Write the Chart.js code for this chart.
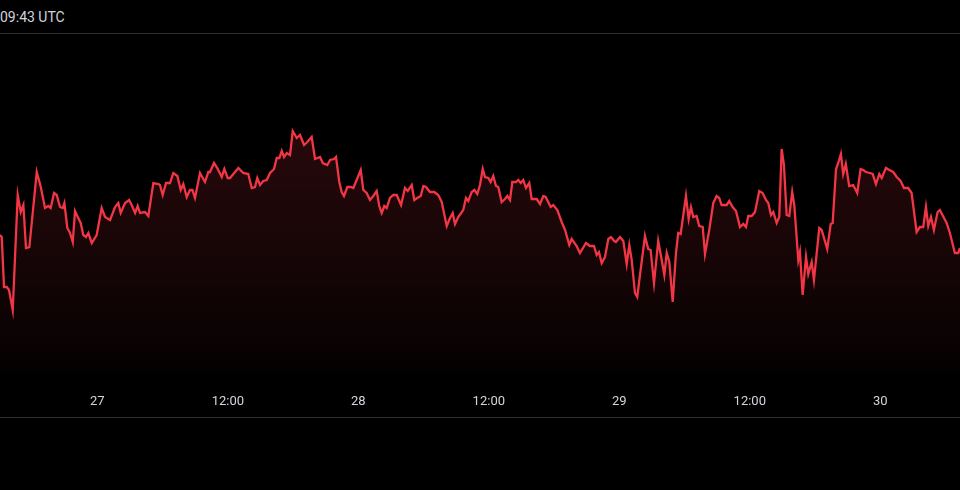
<!DOCTYPE html>
<html>
<head>
<meta charset="utf-8">
<script src="https://cdn.jsdelivr.net/npm/chart.js@4/dist/chart.umd.min.js"></script>
<style>
  html, body { margin: 0; padding: 0; background: #000; }
  body { width: 960px; height: 490px; position: relative; overflow: hidden; font-family: Roboto, "Noto Sans", sans-serif; }
  #header { position: absolute; left: 0; top: 0; width: 960px; height: 33px; border-bottom: 1px solid #2e2e2e; }
  #stamp { position: absolute; left: 0; top: 9px; color: #d1d4dc; font-size: 14px; white-space: nowrap; }
  #wrap { position: absolute; left: 0; top: 34px; width: 960px; height: 383px; border-bottom: 1px solid #2e2e2e; }
</style>
</head>
<body>
<div id="header"><span id="stamp">09:43 UTC</span></div>
<div id="wrap"><canvas id="chart"></canvas></div>
<script>
// hours relative to day 27, 00:00 UTC
const hours = [
  -8.95,-8.79,-8.58,-8.33,-8.12,-7.78,-7.32,-7.04,-6.80,-6.56,-6.25,-5.57,-5.20,-4.81,-4.51,-4.29,
  -3.98,-3.73,-3.43,-3.18,-3.03,-2.76,-2.51,-2.26,-2.05,-1.80,-1.53,-1.29,-1.04,-0.83,-0.51,-0.06,
  0.40,0.71,1.17,1.63,1.93,2.15,2.55,2.92,3.16,3.47,3.71,3.93,4.39,4.69,5.15,5.61,
  5.76,6.01,6.32,6.68,6.99,7.36,7.67,7.91,8.22,8.52,8.74,8.98,9.44,9.90,10.21,10.36,
  10.73,11.03,11.44,11.68,11.99,12.20,12.97,13.42,13.88,14.20,14.50,14.71,14.96,15.26,15.58,15.88,
  16.25,16.50,16.74,16.96,17.17,17.42,17.72,17.97,18.34,18.64,19.01,19.31,19.71,20.02,20.48,20.73,
  21.15,21.40,21.76,21.95,22.25,22.47,22.68,22.99,23.30,23.54,23.85,24.22,24.46,24.77,25.07,25.38,
  25.69,25.93,26.15,26.39,26.61,26.91,27.22,27.53,27.93,28.29,28.54,28.91,29.15,29.42,29.74,29.98,
  30.22,30.59,30.99,31.35,31.67,32.13,32.43,32.68,32.89,33.19,33.65,33.90,34.11,34.43,34.67,34.94,
  35.19,35.44,35.65,35.95,36.17,36.41,36.66,36.87,37.18,37.49,37.70,37.95,38.16,38.50,38.71,38.93,
  39.17,39.42,39.72,39.94,40.40,40.71,41.01,41.23,41.69,41.93,42.30,42.70,43.01,43.40,43.62,44.08,
  44.38,44.94,45.30,45.67,45.92,46.13,46.38,46.68,46.99,47.23,47.54,47.69,48.06,48.37,48.68,48.92,
  49.14,49.44,49.65,49.90,50.36,50.66,50.88,51.19,51.58,51.90,52.14,52.36,52.60,52.91,53.21,53.42,
  53.64,54.13,54.38,54.59,54.80,55.11,55.35,55.67,55.88,56.27,56.64,56.95,57.19,57.41,57.87,58.11,
  58.42,58.73,59.10,59.40,59.65,59.86,60.17,60.48,60.87,61.18,61.49,61.70,61.95,62.16,62.47,62.71,
  62.93,63.14,63.39,63.63,63.90,64.09,64.46,64.61,64.86,65.17,65.38,65.69,65.90,66.39,66.61,67.12,
  67.44,67.62,67.93,68.13,68.38,68.59,68.83,69.14,69.51,69.88,70.19,70.43,70.68,71.05,71.30,71.60,
  71.91,72.13,72.52,72.83,73.19,73.51,73.87,74.18,74.57,74.88,75.34,75.65,75.95,76.20,76.41,76.66,
  76.93,77.27,77.48,78.10,78.40,78.86,79.17,79.33
];

const prices = [
  165,163,113,113,110,90,205,188,195,152,153,228,213,192,194,192,
  207,205,193,192,197,172,167,158,189,183,177,165,163,167,157,165,
  192,183,180,193,197,187,197,200,195,187,194,187,188,184,217,216,
  215,205,217,217,227,224,210,216,203,210,210,202,227,218,228,228,
  237,232,223,231,222,222,232,227,226,212,213,222,215,219,220,227,
  231,242,242,249,243,247,245,269,262,265,255,258,263,241,243,237,
  235,240,241,243,218,208,204,213,213,212,220,230,210,207,200,204,
  209,194,187,194,192,202,205,205,195,212,209,215,200,202,204,214,
  213,208,208,205,198,174,182,187,176,183,190,202,199,208,210,206,
  215,231,223,222,218,224,214,213,198,201,204,200,218,218,220,217,
  220,212,217,201,201,196,204,203,193,195,190,178,170,155,161,154,
  147,157,154,154,145,148,137,143,161,163,159,158,163,159,136,155,
  140,107,103,125,164,151,150,117,159,140,125,147,138,98,147,167,
  166,204,181,193,183,184,174,173,146,170,197,204,202,195,195,199,
  193,189,173,176,173,184,184,188,209,207,200,197,185,188,177,183,
  251,235,185,184,208,195,140,148,105,143,126,138,120,172,170,151,
  176,177,231,237,246,226,236,214,215,207,231,230,228,227,226,216,
  226,222,232,230,228,223,219,212,212,207,168,173,173,193,174,183,
  170,188,190,177,167,147,147,152
];

const tickHours = [0, 12, 24, 36, 48, 60, 72];
const tickLabels = ['27', '12:00', '28', '12:00', '29', '12:00', '30'];

const points = hours.map((h, i) => ({ x: h, y: prices[i] }));

function fillGradient(context){
  const chart = context.chart;
  const area = chart.chartArea;
  if(!area) return 'rgba(242,54,69,0.1)';
  const g = chart.ctx.createLinearGradient(0, area.top, 0, area.bottom);
  g.addColorStop(0, 'rgba(242,54,69,0.22)');
  g.addColorStop(0.85, 'rgba(242,54,69,0.05)');
  g.addColorStop(1, 'rgba(242,54,69,0)');
  return g;
}

new Chart(document.getElementById('chart'), {
  type: 'line',
  data: {
    datasets: [{
      data: points,
      borderColor: '#f23645',
      borderWidth: 2.3,
      backgroundColor: fillGradient,
      fill: 'start',
      pointRadius: 0,
      tension: 0
    }]
  },
  options: {
    responsive: true,
    maintainAspectRatio: false,
    animation: false,
    layout: { padding: 0 },
    plugins: { legend: { display: false }, tooltip: { enabled: false } },
    scales: {
      x: {
        type: 'linear',
        min: hours[0],
        max: hours[hours.length - 1],
        grid: { display: false, drawTicks: false },
        border: { display: false },
        afterBuildTicks: axis => { axis.ticks = tickHours.map(v => ({ value: v })); },
        afterFit: axis => { axis.height = 35; },
        ticks: {
          autoSkip: false,
          maxRotation: 0,
          padding: 12,
          color: '#d1d4dc',
          font: { family: 'Roboto, "Noto Sans", sans-serif', size: 13 },
          callback: v => tickLabels[tickHours.indexOf(v)]
        }
      },
      y: {
        display: false,
        min: 18,
        max: 366
      }
    }
  }
});
</script>
</body>
</html>
